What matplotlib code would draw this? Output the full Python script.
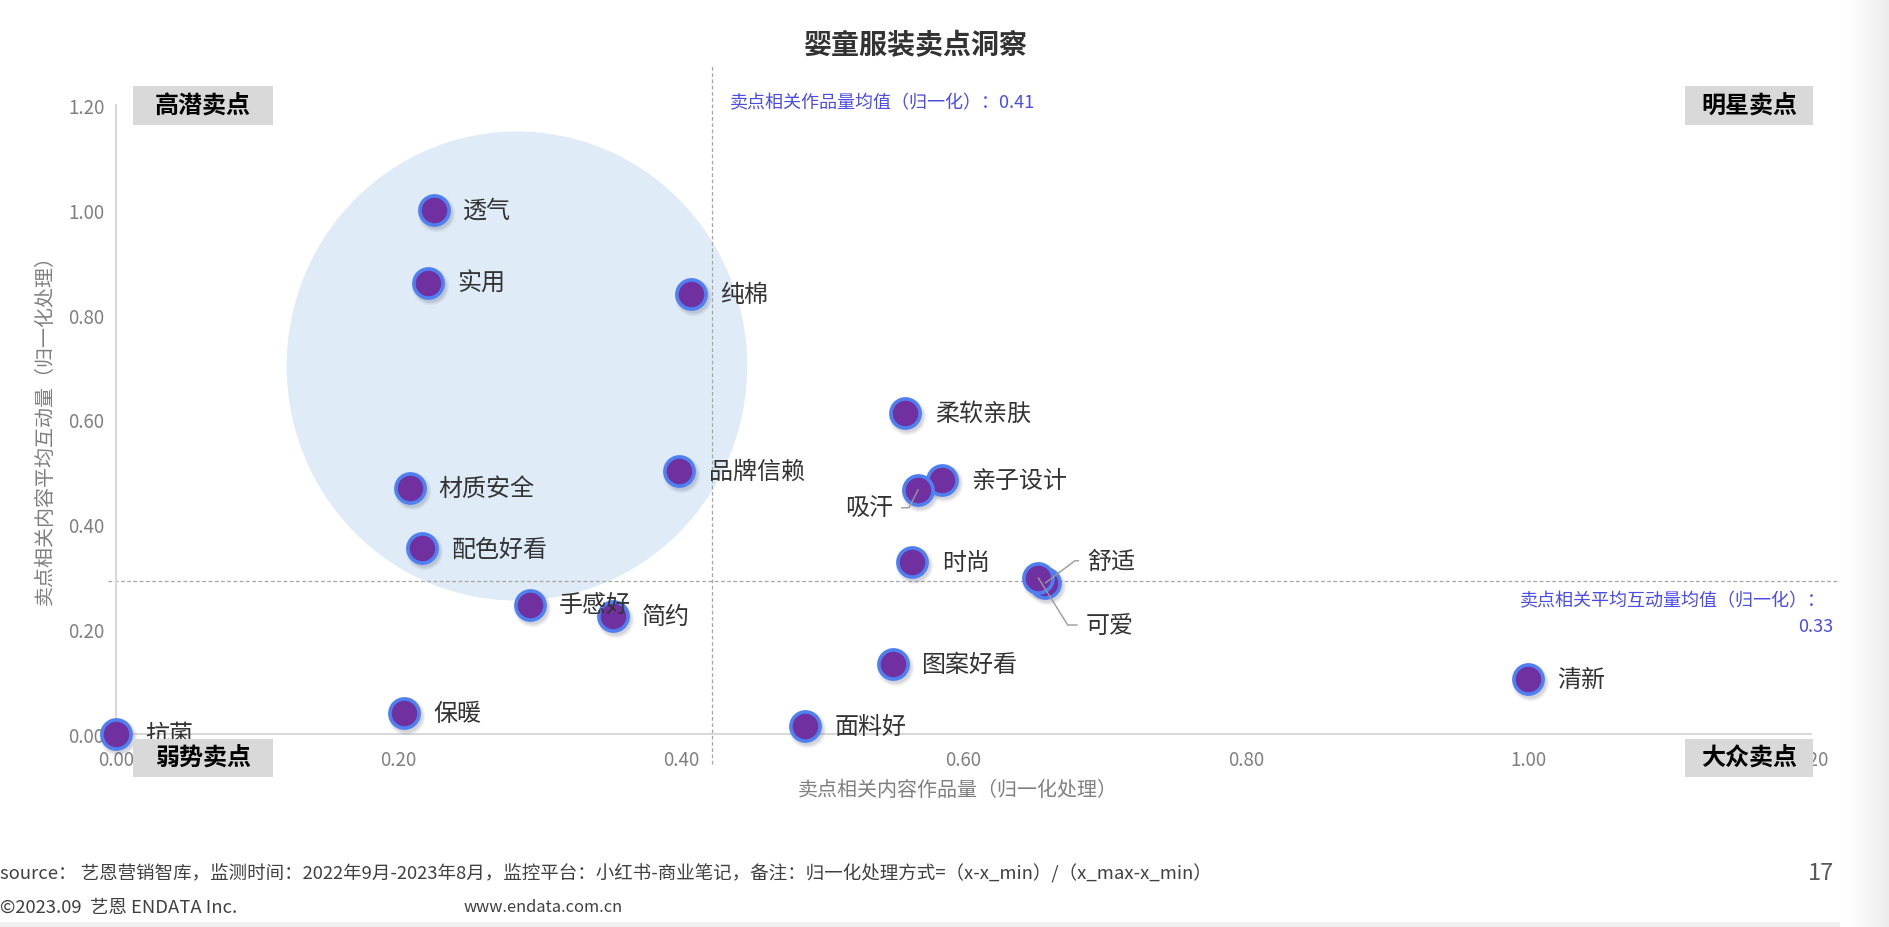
import matplotlib
matplotlib.use("Agg")
import matplotlib.pyplot as plt
import numpy as np
from matplotlib.patches import Ellipse, Rectangle
from matplotlib import transforms

plt.rcParams['font.family'] = ['Noto Sans CJK SC', 'DejaVu Sans']

# ---------------- data ----------------
labels = ['透气', '实用', '纯棉', '柔软亲肤', '品牌信赖', '亲子设计', '吸汗', '材质安全', '配色好看',
          '时尚', '舒适', '可爱', '手感好', '简约', '图案好看', '清新', '保暖', '面料好', '抗菌']
x_vals = [0.225, 0.221, 0.407, 0.559, 0.399, 0.585, 0.568, 0.208, 0.217,
          0.564, 0.658, 0.653, 0.293, 0.352, 0.550, 1.000, 0.204, 0.488, 0.000]
y_vals = [1.000, 0.861, 0.840, 0.613, 0.502, 0.485, 0.466, 0.469, 0.354,
          0.328, 0.288, 0.298, 0.246, 0.225, 0.134, 0.105, 0.041, 0.016, 0.000]

x_ticks = [0.0, 0.2, 0.4, 0.6, 0.8, 1.0, 1.2]
y_ticks = [0.0, 0.2, 0.4, 0.6, 0.8, 1.0, 1.2]

x_mean_line = 0.422
y_mean_line = 0.291
x_mean_text = '卖点相关作品量均值（归一化）：0.41'
y_mean_text1 = '卖点相关平均互动量均值（归一化）：'
y_mean_text2 = '0.33'

highlight_center = (0.284, 0.702)
highlight_w, highlight_h = 0.326, 0.895

title = '婴童服装卖点洞察'
xlabel = '卖点相关内容作品量（归一化处理）'
ylabel = '卖点相关内容平均互动量（归一化处理）'
quadrants = ['高潜卖点', '明星卖点', '弱势卖点', '大众卖点']

# ---------------- figure ----------------
W, H = 1890, 928
fig = plt.figure(figsize=(W / 100, H / 100), dpi=100)
fig.patch.set_facecolor('white')

def fx(px):
    return px / W

def fy(py):
    return 1 - py / H

ax = fig.add_axes([fx(115.7), fy(735), fx(1811) - fx(115.7), fy(106) - fy(735)])
ax.set_xlim(0, 1.2)
ax.set_ylim(0, 1.2)
ax.set_facecolor('none')

for s in ['top', 'right']:
    ax.spines[s].set_visible(False)
for s in ['left', 'bottom']:
    ax.spines[s].set_color('#d9d9d9')
    ax.spines[s].set_linewidth(1.5)
    ax.spines[s].set_zorder(1)

ax.set_xticks(x_ticks)
ax.set_yticks(y_ticks)
ax.set_xticklabels([f'{v:.2f}' for v in x_ticks])
ax.set_yticklabels([f'{v:.2f}' for v in y_ticks])
ax.tick_params(axis='both', length=0, labelsize=13.5, labelcolor='#7f7f7f')
ax.tick_params(axis='x', pad=11)
ax.tick_params(axis='y', pad=8)

# highlight ellipse
ax.add_patch(Ellipse(highlight_center, highlight_w, highlight_h, facecolor='#dfecf7',
                     edgecolor='none', zorder=0))

# mean lines
ax.plot([x_mean_line, x_mean_line], [-0.057, 1.277], ls=(0, (3, 2)), color='#a6a6a6',
        lw=0.9, clip_on=False, zorder=1)
ax.plot([-0.0055, 1.224], [y_mean_line, y_mean_line], ls=(0, (3, 2)), color='#a6a6a6',
        lw=0.9, clip_on=False, zorder=1)

# shadows
for k, a in enumerate([0.10, 0.08, 0.06]):
    tr = transforms.offset_copy(ax.transData, fig=fig, x=2.0, y=-3.0, units='dots')
    ax.plot(x_vals, y_vals, 'o', transform=tr, ms=23 + 2 * k, color='#404060',
            alpha=a, mec='none', clip_on=False, zorder=2)

# markers
ax.plot(x_vals, y_vals, 'o', ms=21, mfc='#7030a0', mec='#4f80f2', mew=2.6,
        clip_on=False, zorder=3, ls='none')

# labels
LFS = 17.3
special = {
    '舒适': dict(xytext=(30, 16), ha='left', relpos=(0, 0.5), angB=37),
    '可爱': dict(xytext=(34, -34), ha='left', relpos=(0, 0.5), angB=-58),
    '吸汗': dict(xytext=(-18, -13), ha='right', relpos=(1, 0.5), angB=63),
}
for lab, xv, yv in zip(labels, x_vals, y_vals):
    if lab in special:
        sp = special[lab]
        ax.annotate(lab, xy=(xv, yv), xytext=sp['xytext'], textcoords='offset points',
                    ha=sp['ha'], va='center', fontsize=LFS, color='#333333', zorder=5,
                    arrowprops=dict(arrowstyle='-', color='#9a9a9a', lw=1.0,
                                    shrinkA=4, shrinkB=0, relpos=sp['relpos'],
                                    connectionstyle=f"angle,angleA=0,angleB={sp['angB']},rad=0"),
                    annotation_clip=False)
    else:
        ax.annotate(lab, xy=(xv, yv), xytext=(21, 0), textcoords='offset points',
                    ha='left', va='center', fontsize=LFS, color='#333333', zorder=5,
                    annotation_clip=False)

# mean texts
fig.text(fx(730), fy(103), x_mean_text, ha='left', va='center', fontsize=13, color='#4b4be6')
fig.text(fx(1826), fy(601), y_mean_text1, ha='right', va='center', fontsize=13, color='#4b4be6')
fig.text(fx(1833), fy(627), y_mean_text2, ha='right', va='center', fontsize=13, color='#4b4be6')

# axis labels
fig.text(fx(958), fy(790), xlabel, ha='center', va='center', fontsize=14.4, color='#7f7f7f')
fig.text(fx(45), fy(425), ylabel, ha='center', va='center', rotation=90, fontsize=14.4,
         color='#7f7f7f')

# title
fig.text(fx(916), fy(46), title, ha='center', va='center', fontsize=20.2, fontweight='bold',
         color='#333333')

# quadrant boxes
boxes = [(133, 87, 273, 126), (1685, 87, 1813, 126), (133, 740, 273, 778), (1685, 740, 1813, 778)]
for q, (x0, y0, x1, y1) in zip(quadrants, boxes):
    fig.add_artist(Rectangle((fx(x0), fy(y1)), fx(x1) - fx(x0), fy(y0) - fy(y1),
                             transform=fig.transFigure, facecolor='#d9d9d9',
                             edgecolor='none', zorder=4))
    fig.text(fx((x0 + x1) / 2), fy((y0 + y1) / 2), q, ha='center', va='center',
             fontsize=17.3, fontweight='bold', color='#000000', zorder=6)

# footer
fig.text(fx(0), fy(874), 'source： 艺恩营销智库，监测时间：2022年9月-2023年8月，监控平台：小红书-商业笔记，'
         '备注：归一化处理方式=（x-x_min）/（x_max-x_min）', ha='left', va='center',
         fontsize=13.3, color='#404040')
fig.text(fx(0), fy(908), '©2023.09  艺恩 ENDATA Inc.', ha='left', va='center',
         fontsize=13.3, color='#404040')
fig.text(fx(464), fy(908), 'www.endata.com.cn', ha='left', va='center',
         fontsize=11.8, color='#404040')
fig.text(fx(1821), fy(874), '17', ha='center', va='center', fontsize=17, color='#595959')

# right edge shading and bottom band
gax = fig.add_axes([fx(1840), 0, fx(W) - fx(1840), 1])
grad = np.linspace(0, 1, 64).reshape(1, -1) ** 1.5
gax.imshow(grad, aspect='auto', cmap=matplotlib.colors.LinearSegmentedColormap.from_list(
    'g', ['#ffffff', '#ebebeb']), extent=[0, 1, 0, 1])
gax.axis('off')
fig.add_artist(Rectangle((0, 0), fx(1840), fy(923), transform=fig.transFigure,
                         facecolor='#f0f0f0', edgecolor='none', zorder=0))

fig.savefig('out.png', dpi=100, facecolor='white')
